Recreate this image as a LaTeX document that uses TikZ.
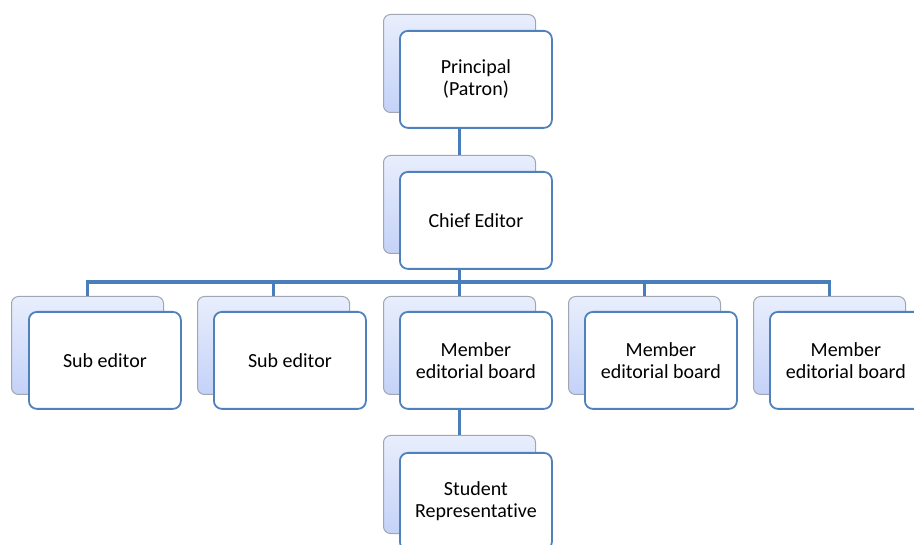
\documentclass[tikz,border=0pt]{standalone}
\usepackage{fontspec}
\setmainfont[Ligatures={NoCommon}]{Carlito}
\definecolor{conn}{RGB}{74,126,187}
\definecolor{frontborder}{RGB}{79,129,189}
\definecolor{backborder}{RGB}{160,166,180}
\definecolor{backtop}{RGB}{232,238,252}
\definecolor{backbot}{RGB}{196,210,248}
\tikzset{
  backbox/.style={draw=backborder, line width=1pt, rounded corners=7pt,
    top color=backtop, bottom color=backbot, minimum width=152pt, minimum height=98pt,
    inner sep=0pt, anchor=north west},
  frontbox/.style={draw=frontborder, line width=1.8pt, rounded corners=8pt,
    fill=white, minimum width=152pt, minimum height=97pt, inner sep=0pt,
    anchor=north west, align=center, font=\fontsize{20}{22}\selectfont},
  connline/.style={draw=conn, line width=3.6pt},
}
\begin{document}
\begin{tikzpicture}[x=1pt,y=-1pt]
\useasboundingbox (0,0) rectangle (914,545);
\clip (0,0) rectangle (914,545);
\coordinate (bar) at (0,282);
% back boxes
\node[backbox] (pb) at (383,14) {};
\node[backbox] (cb) at (383,155) {};
\node[backbox] (s1b) at (11,296) {};
\node[backbox] (s2b) at (197,296) {};
\node[backbox] (m3b) at (383,296) {};
\node[backbox] (m4b) at (568,296) {};
\node[backbox] (m5b) at (753,296) {};
\node[backbox] (stb) at (383,435) {};
% connectors
\draw[connline] (cb.north) -- (cb.north |- pb.south);
\draw[connline] (cb.south) -- (cb.south |- bar);
\draw[connline] (s1b.north) |- (m5b.north |- bar) -- (m5b.north);
\draw[connline] (s2b.north) -- (s2b.north |- bar);
\draw[connline] (m3b.north) -- (m3b.north |- bar);
\draw[connline] (m4b.north) -- (m4b.north |- bar);
\draw[connline] (stb.north) -- (stb.north |- m3b.south);
% front boxes
\node[frontbox] (pf) at (399,30) {Principal\\(Patron)};
\node[frontbox] (cf) at (399,171) {Chief Editor};
\node[frontbox] (s1f) at (28,311) {Sub editor};
\node[frontbox] (s2f) at (213,311) {Sub editor};
\node[frontbox] (m3f) at (399,311) {Member\\editorial board};
\node[frontbox] (m4f) at (584,311) {Member\\editorial board};
\node[frontbox] (m5f) at (769,311) {Member\\editorial board};
\node[frontbox] (stf) at (399,452) {Student\\Representative};
\end{tikzpicture}
\end{document}
